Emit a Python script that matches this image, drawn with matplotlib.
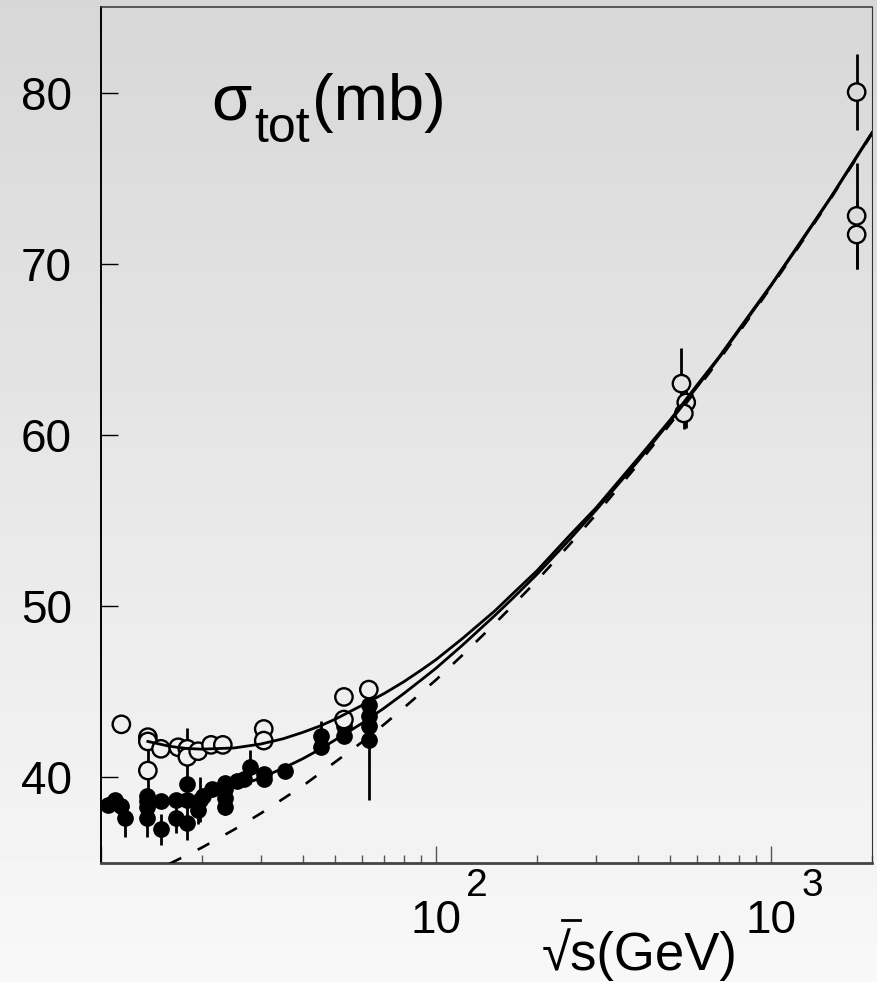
import numpy as np
import matplotlib.pyplot as plt
from matplotlib import transforms
from matplotlib.lines import Line2D
from matplotlib.ticker import NullFormatter

plt.rcParams['font.family'] = ['Liberation Sans', 'DejaVu Sans']

# pbar-p total cross sections (open circles)
pbarp_sqrts = [11.5, 13.8, 13.8, 13.8, 15.1, 17.0, 18.1, 18.1, 19.5, 21.3, 23.1,
               30.6, 30.6, 53.1, 53.1, 63.0, 540, 558, 549, 1800, 1800, 1800]
pbarp_sigma = [43.1, 42.35, 42.1, 40.4, 41.67, 41.76, 41.67, 41.2, 41.53, 41.9, 41.9,
               42.83, 42.15, 44.7, 43.38, 45.13, 63.0, 61.9, 61.26, 80.03, 72.8, 71.71]
pbarp_err = [0.3, 0.3, 0.3, 1.3, 0.3, 0.3, 0.3, 1.7, 0.3, 0.3, 0.3,
             0.3, 0.3, 0.3, 0.3, 0.3, 2.1, 1.5, 0.93, 2.24, 3.1, 2.02]

# pp total cross sections (filled circles)
pp_sqrts = [10.5, 11.0, 11.5, 11.8, 13.7, 13.7, 13.7, 13.7, 15.1, 15.1, 16.8, 16.8,
            18.1, 18.1, 18.1, 19.5, 19.7, 20.2, 21.4, 23.5, 23.5, 23.5, 23.5, 25.5,
            26.7, 27.8, 30.6, 30.6, 35.5, 45.2, 45.2, 53.1, 53.1, 63.0, 63.0, 63.0, 63.0]
pp_sigma = [38.4, 38.7, 38.35, 37.6, 38.9, 38.6, 38.3, 37.6, 38.6, 36.96, 38.7, 37.65,
            39.6, 38.7, 37.35, 38.1, 38.7, 38.9, 39.3, 39.7, 39.3, 38.8, 38.3, 39.8,
            39.9, 40.6, 40.2, 39.9, 40.4, 42.4, 41.8, 43.0, 42.4, 44.25, 43.57, 43.0, 42.2]
pp_err = [0.2, 0.2, 0.3, 1.1, 0.3, 0.3, 0.3, 1.1, 0.3, 0.9, 0.3, 0.9,
          0.3, 0.3, 1.0, 0.8, 1.3, 0.3, 0.3, 0.3, 0.3, 0.3, 0.5, 0.3,
          0.3, 1.0, 0.3, 0.3, 0.3, 0.9, 0.3, 0.3, 0.3, 0.3, 0.3, 0.3, 3.5]

# fitted curves
fit_sqrts = [13.8, 16, 18, 20, 25, 30, 35, 40, 45, 50, 60, 70, 80, 90, 100, 120, 150,
             170, 200, 250, 300, 400, 500, 600, 700, 850, 1000, 1200, 1500, 1750, 2000]
pbarp_fit = [42.1, 41.82, 41.69, 41.65, 41.72, 41.95, 42.26, 42.63, 43.0, 43.4, 44.2,
             44.9, 45.58, 46.25, 46.88, 48.12, 49.74, 50.76, 52.07, 54.12, 55.74, 58.62,
             60.89, 62.9, 64.57, 66.87, 68.77, 71.04, 73.83, 75.89, 77.66]
pp_fit = [38.6, 38.64, 38.75, 38.91, 39.41, 39.97, 40.54, 41.09, 41.64, 42.19, 43.15,
          44.05, 44.89, 45.67, 46.38, 47.73, 49.47, 50.49, 51.86, 53.88, 55.6, 58.46,
          60.8, 62.79, 64.52, 66.79, 68.73, 70.98, 73.81, 75.85, 77.64]
asym_sqrts = [16, 20, 25, 30, 40, 50, 60, 70, 80, 100, 120, 150, 170, 200, 250, 300,
              400, 500, 600, 700, 850, 1000, 1200, 1500, 2000]
asym_fit = [34.95, 35.9, 36.96, 37.9, 39.5, 40.9, 42.05, 43.1, 44.05, 45.7, 47.15, 49.0,
            50.07, 51.5, 53.59, 55.35, 58.27, 60.65, 62.66, 64.4, 66.69, 68.65, 70.91,
            73.75, 77.6]

W, H = 877, 982
fig = plt.figure(figsize=(W / 100, H / 100), dpi=100)

# vertical grey gradient behind everything
g_top, g_bot = 0.843, 0.973
bg = fig.add_axes([0, 0, 1, 1], zorder=-10)
grad = np.linspace(g_top, g_bot, 256).reshape(-1, 1)
bg.imshow(grad, aspect='auto', cmap='gray', vmin=0, vmax=1, extent=[0, 1, 0, 1])
bg.set_axis_off()

x0, x1, y0, y1 = 101, 872, 7, 863
ax = fig.add_axes([x0 / W, 1 - y1 / H, (x1 - x0) / W, (y1 - y0) / H])
ax.patch.set_alpha(0)
ax.set_xscale('log')
ax.set_xlim(10, 2000)
ax.set_ylim(35, 85)

ax.set_yticks([40, 50, 60, 70, 80])
ax.tick_params(axis='y', direction='in', length=12.2, width=1, labelsize=33, pad=21,
               right=False, colors='k')
ax.tick_params(axis='x', which='major', direction='in', length=12.2, width=1,
               color='#555555', labelbottom=False, top=False)
ax.tick_params(axis='x', which='minor', direction='in', length=5.8, width=1,
               color='#555555', top=False)
ax.xaxis.set_minor_formatter(NullFormatter())

ax.spines['left'].set_linewidth(1.4)
ax.spines['left'].set_color('k')
ax.spines['top'].set_linewidth(1.1)
ax.spines['top'].set_color('#333333')
ax.spines['right'].set_linewidth(0.8)
ax.spines['right'].set_color('#333333')
ax.spines['bottom'].set_linewidth(2.0)
ax.spines['bottom'].set_color('#444444')

# data points
ax.errorbar(pp_sqrts, pp_sigma, yerr=pp_err, fmt='o', color='k', ms=11,
            elinewidth=2.0, capsize=0, zorder=3)
ax.errorbar(pbarp_sqrts, pbarp_sigma, yerr=pbarp_err, fmt='none', ecolor='k',
            elinewidth=2.0, capsize=0, zorder=2)
# open markers get the local background colour so the bars don't show through
pts = ax.transData.transform(np.column_stack([pbarp_sqrts, pbarp_sigma]))
yfrac = pts[:, 1] / H
faces = [(g,) * 3 for g in g_top + (g_bot - g_top) * (1 - yfrac)]
ax.scatter(pbarp_sqrts, pbarp_sigma, s=12.5 ** 2, facecolors=faces, edgecolors='k',
           linewidths=1.7, zorder=4)

# fits
ax.plot(fit_sqrts, pbarp_fit, color='k', lw=2.0, zorder=5)
ax.plot(fit_sqrts, pp_fit, color='k', lw=2.0, zorder=5)
ax.plot(asym_sqrts, asym_fit, color='k', lw=1.9, dashes=(5, 7), zorder=5)

# ROOT-like decade labels 10^n
trans = ax.get_xaxis_transform()
for val, expo in [(100, '2'), (1000, '3')]:
    ax.text(val, (y1 - 933) / (y1 - y0), '10', transform=trans, ha='center',
            va='baseline', fontsize=33, clip_on=False)
    off = transforms.offset_copy(trans, fig=fig, x=30, y=0, units='dots')
    ax.text(val, (y1 - 896) / (y1 - y0), expo, transform=off, ha='left',
            va='baseline', fontsize=28, clip_on=False)

# axis title: sqrt(s) with the short bar over the s
xt = fig.text(738 / W, 1 - 970 / H, '√s(GeV)', ha='right', va='baseline', fontsize=38)
fig.canvas.draw()
bb = xt.get_window_extent(fig.canvas.get_renderer())
bar_y = 1 - 920 / H
fig.add_artist(Line2D([(bb.x0 + 20) / W, (bb.x0 + 38) / W], [bar_y, bar_y],
                      transform=fig.transFigure, color='k', lw=2.0))

# sigma_tot(mb) title
fig.text(211 / W, 1 - 120 / H, 'σ', ha='left', va='baseline', fontsize=47)
fig.text(254 / W, 1 - 142 / H, 'tot', ha='left', va='baseline', fontsize=36)
fig.text(312 / W, 1 - 120 / H, '(mb)', ha='left', va='baseline', fontsize=47)

fig.savefig('out.png', dpi=100)
